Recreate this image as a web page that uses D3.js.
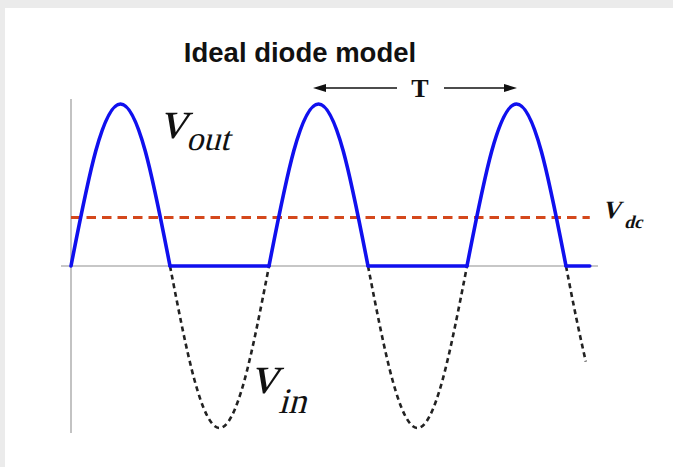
<!DOCTYPE html>
<html>
<head>
<meta charset="utf-8">
<script src="https://cdn.jsdelivr.net/npm/d3@7"></script>
<style>
  html, body { margin: 0; padding: 0; background: #ebebeb; }
  svg { display: block; }
</style>
</head>
<body>
<script>
// ---- data (time in periods T, voltage relative to peak amplitude) ----
const title = "Ideal diode model";
const tIn  = [0.5, 0.625, 0.75, 0.875, 1.0, 1.5, 1.625, 1.75, 1.875, 2.0, 2.5, 2.55, 2.6];
const vIn  = [0, -0.71, -1, -0.71, 0, 0, -0.71, -1, -0.71, 0, 0, -0.31, -0.59];
const tOut = [0, 0.125, 0.25, 0.375, 0.5, 1.0, 1.125, 1.25, 1.375, 1.5, 2.0, 2.125, 2.25, 2.375, 2.5, 2.62];
const vOut = [0, 0.71, 1, 0.71, 0, 0, 0.71, 1, 0.71, 0, 0, 0.71, 1, 0.71, 0, 0];
const vDc = 0.30;
const vdcRange = [0, 2.62];
const labels = { vout: ["v", "out"], vin: ["v", "in"], vdc: ["V", "dc"], period: "T" };

const W = 673, H = 467;
const svg = d3.select("body").append("svg").attr("width", W).attr("height", H);

svg.append("rect").attr("x", 0).attr("y", 0).attr("width", W).attr("height", H).attr("fill", "#ebebeb");
svg.append("rect").attr("x", 5).attr("y", 8).attr("width", W - 5).attr("height", H - 8).attr("fill", "#ffffff");

const x = d3.scaleLinear().domain([0, 1]).range([71, 269]);
const y = d3.scaleLinear().domain([-1, 1]).range([428, 104]);

// axes
svg.append("line").attr("x1", x(0)).attr("x2", x(0)).attr("y1", 99).attr("y2", 433)
  .attr("stroke", "#b4b4b4").attr("stroke-width", 1.6);
svg.append("line").attr("x1", 61).attr("x2", 598).attr("y1", y(0)).attr("y2", y(0))
  .attr("stroke", "#b4b4b4").attr("stroke-width", 1.6);

// split a series into runs: "curve" runs (non-zero humps incl. boundary zeros) and "flat" runs
function runs(ts, vs) {
  const pts = ts.map((t, i) => ({ t, v: vs[i] }));
  const out = [];
  let i = 0;
  while (i < pts.length - 1) {
    if (pts[i].v === 0 && pts[i + 1].v === 0) {
      out.push({ type: "flat", pts: [pts[i], pts[i + 1]] });
      i += 1;
    } else {
      const seg = [pts[i]];
      let j = i + 1;
      while (j < pts.length) {
        seg.push(pts[j]);
        if (pts[j].v === 0) break;
        j++;
      }
      out.push({ type: "curve", pts: seg });
      i = j;
    }
  }
  return out;
}

const curveLine = d3.line().x(d => x(d.t)).y(d => y(d.v)).curve(d3.curveNatural);
const flatLine = d3.line().x(d => x(d.t)).y(d => y(d.v));

// v_in dashed (negative half cycles)
runs(tIn, vIn).filter(r => r.type === "curve").forEach(r => {
  svg.append("path").attr("d", curveLine(r.pts)).attr("fill", "none")
    .attr("stroke", "#222").attr("stroke-width", 2.6).attr("stroke-dasharray", "5,3.8");
});

// V_dc dashed line
svg.append("line").attr("x1", x(vdcRange[0])).attr("x2", x(vdcRange[1]))
  .attr("y1", y(vDc)).attr("y2", y(vDc))
  .attr("stroke", "#d4481c").attr("stroke-width", 3).attr("stroke-dasharray", "9.5,6");

// v_out solid blue
runs(tOut, vOut).forEach(r => {
  svg.append("path").attr("d", (r.type === "curve" ? curveLine : flatLine)(r.pts))
    .attr("fill", "none").attr("stroke", "#1010ee").attr("stroke-width", 3.6)
    .attr("stroke-linecap", "round").attr("stroke-linejoin", "round");
});

// title
svg.append("text").attr("x", 300).attr("y", 62).attr("text-anchor", "middle")
  .attr("font-family", "'Liberation Sans', Arial, sans-serif").attr("font-weight", "bold")
  .attr("font-size", 27.5).attr("fill", "#111").text(title);

// T period arrow
const ay = 88;
svg.append("line").attr("x1", 320).attr("x2", 397).attr("y1", ay).attr("y2", ay).attr("stroke", "#111").attr("stroke-width", 1.6);
svg.append("path").attr("d", `M313,${ay} L326,${ay - 4} L326,${ay + 4} Z`).attr("fill", "#111");
svg.append("line").attr("x1", 444).attr("x2", 510).attr("y1", ay).attr("y2", ay).attr("stroke", "#111").attr("stroke-width", 1.6);
svg.append("path").attr("d", `M517,${ay} L504,${ay - 4} L504,${ay + 4} Z`).attr("fill", "#111");
svg.append("text").attr("x", 420).attr("y", 97).attr("text-anchor", "middle")
  .attr("font-family", "'Liberation Serif', 'Times New Roman', serif").attr("font-weight", "bold")
  .attr("font-size", 26).attr("fill", "#111").text(labels.period);

// italic (skewed serif) labels
function slanted(txt, xb, yb, fs, bold) {
  svg.append("g").attr("transform", `translate(${xb},${yb}) skewX(-15)`)
    .append("text").attr("x", 0).attr("y", 0)
    .attr("font-family", "'Liberation Serif', 'Times New Roman', serif")
    .attr("font-weight", bold ? "bold" : "normal")
    .attr("font-size", fs).attr("fill", "#111").text(txt);
}
slanted(labels.vout[0], 159, 138, 55, false);
slanted(labels.vout[1], 186, 150, 34, false);
slanted(labels.vin[0], 250, 393, 55, false);
slanted(labels.vin[1], 278, 413, 36, false);
slanted(labels.vdc[0], 602, 218, 25, true);
slanted(labels.vdc[1], 624, 228, 18, true);
</script>
</body>
</html>
